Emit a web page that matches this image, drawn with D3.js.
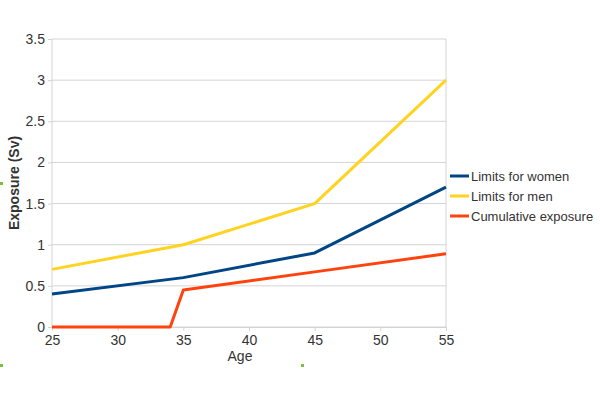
<!DOCTYPE html>
<html>
<head>
<meta charset="utf-8">
<script src="https://cdn.jsdelivr.net/npm/d3@7"></script>
<style>
body { margin: 0; background: #fff; }
text { font-family: "Liberation Sans", Arial, sans-serif; fill: #333; }
</style>
</head>
<body>
<div id="chart"></div>
<script>
// values
const ages = [25, 35, 45, 55];
const women = [0.4, 0.6, 0.9, 1.7];
const men = [0.7, 1.0, 1.5, 3.0];
const cumAges = [25, 34, 35, 45, 55];
const cumulative = [0, 0, 0.45, 0.67, 0.89];
const xTicks = [25, 30, 35, 40, 45, 50, 55];
const yTicks = [0, 0.5, 1, 1.5, 2, 2.5, 3, 3.5];

const series = [
    {name: 'Limits for women', color: '#004586', x: ages, y: women},
    {name: 'Limits for men', color: '#ffd320', x: ages, y: men},
    {name: 'Cumulative exposure', color: '#ff420e', x: cumAges, y: cumulative}
];

const width = 600, height = 400;
const margin = {left: 52, right: 154, top: 39, bottom: 73};

const svg = d3.select('#chart').append('svg')
    .attr('width', width).attr('height', height);

const x = d3.scaleLinear().domain([25, 55]).range([margin.left, width - margin.right]);
const y = d3.scaleLinear().domain([0, 3.5]).range([height - margin.bottom, margin.top]);

// grid lines
svg.append('g').selectAll('line').data(yTicks).enter().append('line')
    .attr('x1', x(25)).attr('x2', x(55))
    .attr('y1', d => y(d)).attr('y2', d => y(d))
    .attr('stroke', '#d4d4d4').attr('stroke-width', 1);

// frame sides
svg.append('line').attr('x1', x(25)).attr('x2', x(25)).attr('y1', y(0)).attr('y2', y(3.5))
    .attr('stroke', '#d4d4d4');
svg.append('line').attr('x1', x(55)).attr('x2', x(55)).attr('y1', y(0)).attr('y2', y(3.5))
    .attr('stroke', '#d4d4d4');

// y axis
const yAxis = svg.append('g')
    .attr('transform', `translate(${x(25)},0)`)
    .call(d3.axisLeft(y).tickValues(yTicks).tickSize(4).tickFormat(d => d));
yAxis.select('.domain').remove();
yAxis.selectAll('line').attr('stroke', '#d4d4d4');
yAxis.selectAll('text').attr('font-size', 14).attr('fill', '#333')
    .attr('font-family', '"Liberation Sans", Arial, sans-serif');

// x axis
const xAxis = svg.append('g')
    .attr('transform', `translate(0,${y(0)})`)
    .call(d3.axisBottom(x).tickValues(xTicks).tickSize(4).tickFormat(d => d));
xAxis.select('.domain').attr('stroke', '#d4d4d4');
xAxis.selectAll('line').attr('stroke', '#d4d4d4');
xAxis.selectAll('text').attr('font-size', 14).attr('fill', '#333').attr('dy', '0.8em')
    .attr('font-family', '"Liberation Sans", Arial, sans-serif');

// lines
const line = d3.line().x(d => x(d[0])).y(d => y(d[1]));
series.forEach(s => {
    svg.append('path')
        .datum(s.x.map((a, i) => [a, s.y[i]]))
        .attr('d', line)
        .attr('fill', 'none')
        .attr('stroke', s.color)
        .attr('stroke-width', 3)
        .attr('stroke-linejoin', 'round');
});

// axis titles
svg.append('text')
    .attr('transform', `translate(19,${(y(0) + y(3.5)) / 2}) rotate(-90)`)
    .attr('text-anchor', 'middle')
    .attr('font-size', 14).attr('font-weight', 'bold')
    .text('Exposure (Sv)');
svg.append('text')
    .attr('x', 240).attr('y', 361)
    .attr('text-anchor', 'middle')
    .attr('font-size', 14)
    .text('Age');

// legend
const legend = svg.append('g').attr('transform', 'translate(450,176)');
series.forEach((s, i) => {
    const g = legend.append('g').attr('transform', `translate(0,${i * 20})`);
    g.append('line').attr('x1', 0).attr('x2', 19).attr('y1', 0).attr('y2', 0)
        .attr('stroke', s.color).attr('stroke-width', 3);
    g.append('text').attr('x', 21).attr('y', 5).attr('font-size', 13).text(s.name);
});

// small green selection handles in the screenshot
svg.append('g').selectAll('rect').data([[0, 182], [0, 364], [301, 364]]).enter().append('rect')
    .attr('x', d => d[0]).attr('y', d => d[1]).attr('width', 3).attr('height', 3)
    .attr('fill', '#7cbf3f');
</script>
</body>
</html>
